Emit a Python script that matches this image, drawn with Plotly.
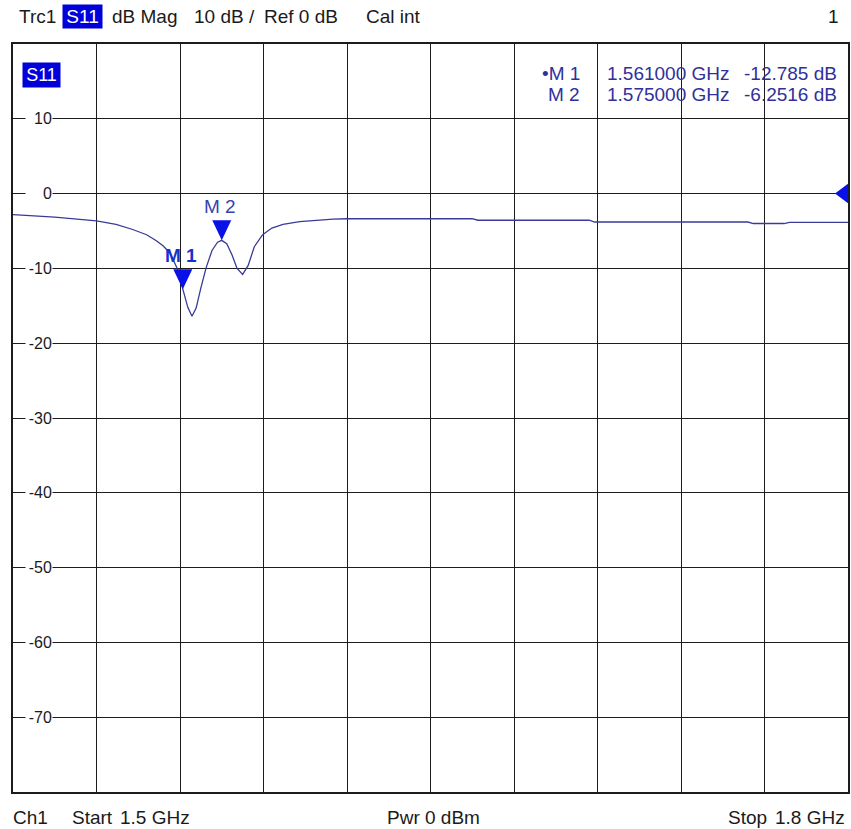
import plotly.graph_objects as go

# ---------------- data ----------------
freq_ghz = [1.500, 1.507, 1.515, 1.523, 1.530, 1.537, 1.543, 1.548, 1.5515, 1.554,
            1.5565, 1.559, 1.561, 1.5628, 1.5643, 1.5658, 1.5675, 1.5694, 1.5715, 1.5735,
            1.575, 1.5768, 1.5787, 1.5805, 1.5825, 1.5845, 1.5867, 1.5897, 1.593, 1.597,
            1.603, 1.610, 1.615, 1.620, 1.665, 1.667, 1.707, 1.709, 1.764, 1.766,
            1.777, 1.779, 1.783, 1.785, 1.788, 1.790, 1.800]
s11_db = [-2.8, -2.95, -3.15, -3.4, -3.65, -4.1, -4.8, -5.5, -6.3, -7.0,
          -8.0, -10.0, -12.785, -15.2, -16.4, -15.3, -12.6, -9.9, -7.6, -6.5,
          -6.2516, -6.7, -8.2, -10.0, -10.8, -9.6, -7.1, -5.5, -4.6, -4.1,
          -3.75, -3.5, -3.4, -3.36, -3.36, -3.56, -3.56, -3.8, -3.8, -4.0,
          -4.0, -3.85, -3.85, -3.95, -3.95, -3.85, -3.85]

marker_names = ["M 1", "M 2"]
marker_freq = [1.561, 1.575]
marker_db = [-12.785, -6.2516]
marker_freq_text = ["1.561000 GHz", "1.575000 GHz"]
marker_val_text = ["-12.785 dB", "-6.2516 dB"]

y_ticks = [10, 0, -10, -20, -30, -40, -50, -60, -70]
x_start, x_stop = 1.5, 1.8
y_bottom, y_top = -80, 20

# ---------------- layout helpers ----------------
W, H = 851, 829
L, R, T, B = 13, 1, 44, 37
PW, PH = W - L - R, H - T - B
FONT = "Liberation Sans, Arial, sans-serif"
GRID = "#1c1c1c"
TRACE = "#3a3a98"
MKBLUE = "#0a10e8"
TXTBLUE = "#30309c"


def px(x):
    return (x - L) / PW


def py(y):
    return (H - B - y) / PH


fig = go.Figure()
fig.add_trace(go.Scatter(x=freq_ghz, y=s11_db, mode="lines",
                         line=dict(color=TRACE, width=1.3),
                         hoverinfo="skip", showlegend=False))

ann = []
shapes = []


def text(x, y, s, anchor="center", size=18, color="#1a1a1a", **kw):
    ann.append(dict(xref="paper", yref="paper", x=px(x), y=py(y), text=s,
                    showarrow=False, xanchor=anchor, yanchor="middle",
                    font=dict(family=FONT, size=size, color=color), **kw))


# header
HY = 17
text(38, HY, "Trc1", size=19)
text(82.5, HY, "S11", size=19, color="white", bgcolor="#0000d8", borderpad=0,
     width=39, height=23)
text(144.5, HY, "dB Mag", size=19)
text(225, HY, "10 dB /", size=19)
text(301.5, HY, "Ref 0 dB", size=19)
text(394.5, HY, "Cal int", size=19)
text(843, HY, "1", anchor="right", size=19)

# inner trace label
text(41.5, 75, "S11", color="white", bgcolor="#0000d8", borderpad=0,
     width=37, height=24)

# marker table
row_y = [73, 94]
for i in range(len(marker_names)):
    lab = ("\u2022" if i == 0 else "") + marker_names[i]
    text(583, row_y[i], lab, anchor="right", size=19, color=TXTBLUE)
    text(606, row_y[i], marker_freq_text[i], anchor="left", size=19, color=TXTBLUE)
    text(841, row_y[i], marker_val_text[i], anchor="right", size=19, color=TXTBLUE)

# footer
FY = 817
text(31, FY, "Ch1", size=19)
text(92.5, FY, "Start", size=19)
text(155, FY, "1.5 GHz", size=19)
text(435, FY, "Pwr 0 dBm", size=19)
text(749.5, FY, "Stop", size=19)
text(849, FY, "1.8 GHz", anchor="right", size=19)

# y tick labels inside plot, masking the grid line
for v in y_ticks:
    ann.append(dict(xref="paper", yref="y", x=px(53), y=v, text=str(v),
                    showarrow=False, xanchor="right", yanchor="middle",
                    width=26, align="right", bgcolor="white", borderpad=0,
                    font=dict(family=FONT, size=16, color="#1a1a1a")))

# marker triangles + labels
for i in range(len(marker_names)):
    shapes.append(dict(type="path", xref="x", yref="y",
                       xsizemode="pixel", ysizemode="pixel",
                       xanchor=marker_freq[i], yanchor=marker_db[i],
                       path="M 0,0 L -9.5,20 L 9.5,20 Z",
                       fillcolor=MKBLUE, line=dict(width=0), layer="above"))
    ann.append(dict(xref="x", yref="y", x=marker_freq[i], y=marker_db[i],
                    text=("<b>%s</b>" % marker_names[i]) if i == 0 else marker_names[i],
                    showarrow=False, xanchor="center", yanchor="middle",
                    xshift=-2, yshift=34,
                    font=dict(family=FONT, size=19,
                              color="#1532cc" if i == 0 else "#3444b0")))

# reference level triangle at right edge
shapes.append(dict(type="path", xref="x", yref="y",
                   xsizemode="pixel", ysizemode="pixel",
                   xanchor=x_stop, yanchor=0,
                   path="M -13,0 L 1,10.5 L 1,-10.5 Z",
                   fillcolor=MKBLUE, line=dict(width=0), layer="above"))

fig.update_layout(
    width=W, height=H,
    margin=dict(l=L, r=R, t=T, b=B, pad=0),
    paper_bgcolor="white", plot_bgcolor="white",
    showlegend=False,
    annotations=ann, shapes=shapes,
    xaxis=dict(range=[x_start, x_stop], tick0=x_start, dtick=(x_stop - x_start) / 10,
               showgrid=True, gridcolor=GRID, gridwidth=1, zeroline=False,
               showticklabels=False, ticks="", showline=True, linecolor=GRID,
               linewidth=1.5, mirror=True, fixedrange=True),
    yaxis=dict(range=[y_bottom, y_top], tick0=0, dtick=10,
               showgrid=True, gridcolor=GRID, gridwidth=1, zeroline=False,
               showticklabels=False, ticks="", showline=True, linecolor=GRID,
               linewidth=1.5, mirror=True, fixedrange=True),
)

fig.write_html("out.html", config={"displayModeBar": False},
               post_script="document.body.style.margin='0px';"
                           "document.body.style.overflow='hidden';")
